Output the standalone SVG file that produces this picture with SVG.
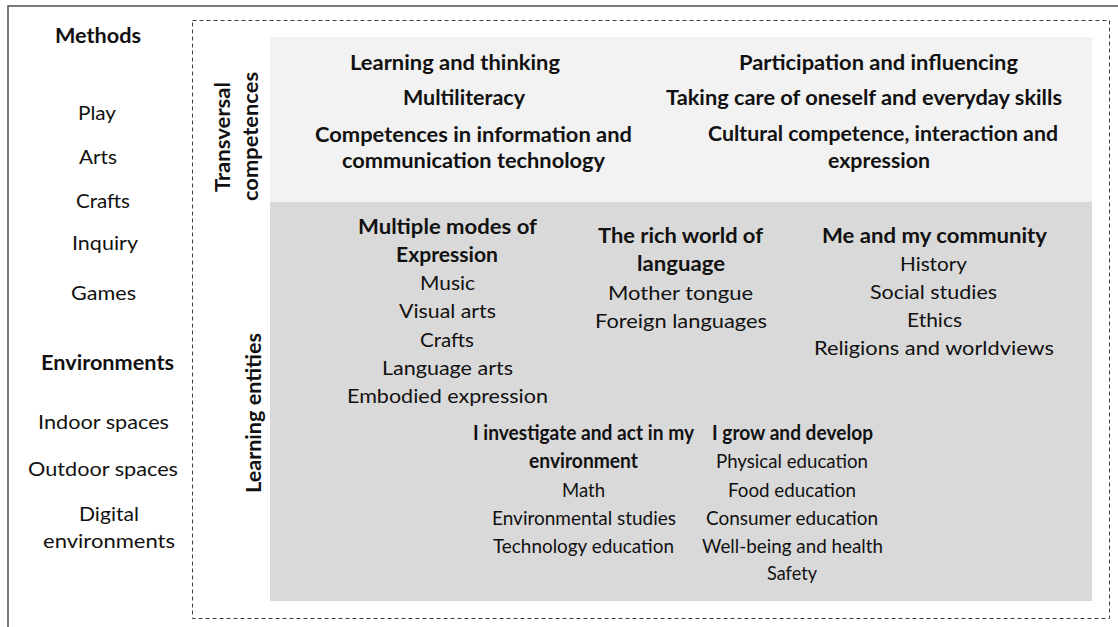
<svg xmlns="http://www.w3.org/2000/svg" width="1118" height="627" viewBox="0 0 1118 627">
<style>
text{font-family:Lato,"Open Sans","Liberation Sans",sans-serif;fill:#111;text-anchor:middle}
.b{font-weight:bold;font-size:20px}
.r{font-size:20px}
</style>
<rect width="1118" height="627" fill="#fff"/>
<rect id="frame" x="8" y="6" width="1300" height="800" fill="none" stroke="#5a5a5a" stroke-width="1.6"/>
<rect id="boundary" x="192.5" y="20.5" width="917" height="598" fill="none" stroke="#404040" stroke-width="1" stroke-dasharray="4 3"/>
<g id="left-column">
<text class="b" x="98" y="43" textLength="86" lengthAdjust="spacingAndGlyphs">Methods</text>
<text class="r" x="97" y="120" textLength="38" lengthAdjust="spacingAndGlyphs">Play</text>
<text class="r" x="98" y="164" textLength="38" lengthAdjust="spacingAndGlyphs">Arts</text>
<text class="r" x="103" y="208" textLength="54" lengthAdjust="spacingAndGlyphs">Crafts</text>
<text class="r" x="105" y="250" textLength="66" lengthAdjust="spacingAndGlyphs">Inquiry</text>
<text class="r" x="103.5" y="300" textLength="65" lengthAdjust="spacingAndGlyphs">Games</text>
<text class="b" x="107.5" y="370" textLength="133" lengthAdjust="spacingAndGlyphs">Environments</text>
<text class="r" x="103.5" y="429" textLength="131" lengthAdjust="spacingAndGlyphs">Indoor spaces</text>
<text class="r" x="103" y="476" textLength="150" lengthAdjust="spacingAndGlyphs">Outdoor spaces</text>
<text class="r" x="109" y="521" textLength="60" lengthAdjust="spacingAndGlyphs">Digital</text>
<text class="r" x="109" y="548" textLength="132" lengthAdjust="spacingAndGlyphs">environments</text>
</g>
<g id="transversal">
<rect x="270" y="37" width="822" height="165" fill="#f2f2f2"/>
<text class="b" transform="translate(230,137) rotate(-90)" textLength="110" lengthAdjust="spacingAndGlyphs">Transversal</text>
<text class="b" transform="translate(258,136.5) rotate(-90)" textLength="129" lengthAdjust="spacingAndGlyphs">competences</text>
<text class="b" x="455" y="70" textLength="210" lengthAdjust="spacingAndGlyphs">Learning and thinking</text>
<text class="b" x="464" y="105" textLength="122" lengthAdjust="spacingAndGlyphs">Multiliteracy</text>
<text class="b" x="473.5" y="142" textLength="317" lengthAdjust="spacingAndGlyphs">Competences in information and</text>
<text class="b" x="473.5" y="168" textLength="263" lengthAdjust="spacingAndGlyphs">communication technology</text>
<text class="b" x="878.5" y="70" textLength="279" lengthAdjust="spacingAndGlyphs">Participation and influencing</text>
<text class="b" x="864" y="105" textLength="396" lengthAdjust="spacingAndGlyphs">Taking care of oneself and everyday skills</text>
<text class="b" x="883" y="141" textLength="350" lengthAdjust="spacingAndGlyphs">Cultural competence, interaction and</text>
<text class="b" x="879" y="168" textLength="102" lengthAdjust="spacingAndGlyphs">expression</text>
</g>
<g id="learning-entities">
<rect x="270" y="202" width="822" height="399" fill="#d9d9d9"/>
<text class="b" transform="translate(261,413) rotate(-90)" textLength="160" lengthAdjust="spacingAndGlyphs">Learning entities</text>
</g>
<g id="multiple-modes">
<text class="b" x="447.5" y="234" textLength="179" lengthAdjust="spacingAndGlyphs">Multiple modes of</text>
<text class="b" x="447" y="262" textLength="102" lengthAdjust="spacingAndGlyphs">Expression</text>
<text class="r" x="447.5" y="290" textLength="55" lengthAdjust="spacingAndGlyphs">Music</text>
<text class="r" x="447.5" y="318" textLength="97" lengthAdjust="spacingAndGlyphs">Visual arts</text>
<text class="r" x="447" y="347" textLength="54" lengthAdjust="spacingAndGlyphs">Crafts</text>
<text class="r" x="447.5" y="375" textLength="131" lengthAdjust="spacingAndGlyphs">Language arts</text>
<text class="r" x="447.5" y="403" textLength="201" lengthAdjust="spacingAndGlyphs">Embodied expression</text>
</g>
<g id="rich-world">
<text class="b" x="680.5" y="243" textLength="165" lengthAdjust="spacingAndGlyphs">The rich world of</text>
<text class="b" x="681" y="271" textLength="88" lengthAdjust="spacingAndGlyphs">language</text>
<text class="r" x="680.5" y="300" textLength="145" lengthAdjust="spacingAndGlyphs">Mother tongue</text>
<text class="r" x="681" y="328" textLength="172" lengthAdjust="spacingAndGlyphs">Foreign languages</text>
</g>
<g id="community">
<text class="b" x="934.5" y="243" textLength="225" lengthAdjust="spacingAndGlyphs">Me and my community</text>
<text class="r" x="933.5" y="271" textLength="67" lengthAdjust="spacingAndGlyphs">History</text>
<text class="r" x="933.5" y="299" textLength="127" lengthAdjust="spacingAndGlyphs">Social studies</text>
<text class="r" x="934.5" y="327" textLength="55" lengthAdjust="spacingAndGlyphs">Ethics</text>
<text class="r" x="934" y="355" textLength="240" lengthAdjust="spacingAndGlyphs">Religions and worldviews</text>
</g>
<g id="investigate">
<text class="b" x="583.5" y="440" textLength="221" lengthAdjust="spacingAndGlyphs">I investigate and act in my</text>
<text class="b" x="583.5" y="468" textLength="109" lengthAdjust="spacingAndGlyphs">environment</text>
<text class="r" x="583.5" y="497" textLength="43" lengthAdjust="spacingAndGlyphs">Math</text>
<text class="r" x="584" y="525" textLength="184" lengthAdjust="spacingAndGlyphs">Environmental studies</text>
<text class="r" x="583.5" y="553" textLength="181" lengthAdjust="spacingAndGlyphs">Technology education</text>
</g>
<g id="grow">
<text class="b" x="792.5" y="440" textLength="161" lengthAdjust="spacingAndGlyphs">I grow and develop</text>
<text class="r" x="792" y="468" textLength="152" lengthAdjust="spacingAndGlyphs">Physical education</text>
<text class="r" x="792" y="497" textLength="128" lengthAdjust="spacingAndGlyphs">Food education</text>
<text class="r" x="792" y="525" textLength="172" lengthAdjust="spacingAndGlyphs">Consumer education</text>
<text class="r" x="792.5" y="553" textLength="181" lengthAdjust="spacingAndGlyphs">Well-being and health</text>
<text class="r" x="792" y="580" textLength="50" lengthAdjust="spacingAndGlyphs">Safety</text>
</g>
<g id="connectors"></g>
</svg>
